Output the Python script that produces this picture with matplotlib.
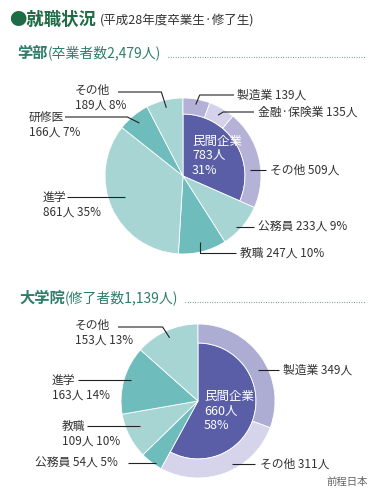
import numpy as np
import matplotlib.pyplot as plt

plt.rcParams['font.family'] = ['Noto Sans CJK JP', 'DejaVu Sans']

# 学部 (undergraduates)
ug_names = ['民間企業', '公務員', '教職', '進学', '研修医', 'その他']
ug_counts = [783, 233, 247, 861, 166, 189]
ug_pcts = [31, 9, 10, 35, 7, 8]
ug_sub_names = ['製造業', '金融·保険業', 'その他']
ug_sub_counts = [139, 135, 509]

# 大学院 (graduate school)
gr_names = ['民間企業', '公務員', '教職', '進学', 'その他']
gr_counts = [660, 54, 109, 163, 153]
gr_pcts = [58, 5, 10, 14, 13]
gr_sub_names = ['製造業', 'その他']
gr_sub_counts = [349, 311]

DARK = '#5a5ea6'
TEAL = '#6ebcbc'
LTEAL = '#a7d5d4'
TXT = '#333333'
GREEN = '#1f6b45'
SUBGREEN = '#2e7d6b'
FS = 8.5

W, H = 379, 497
fig = plt.figure(figsize=(W / 100, H / 100), dpi=100)
ax = fig.add_axes([0, 0, 1, 1])


def Y(y):
    # image pixel row -> axis coordinate
    return H - y


def draw_pie(center, R, r, counts, colors, sub_counts, sub_colors):
    cx, cy = center
    total = sum(counts)
    wedges, _ = ax.pie(counts, colors=colors, radius=R, center=(cx, Y(cy)),
                       startangle=90, counterclock=False,
                       wedgeprops=dict(edgecolor='white', linewidth=0.6))
    wedges[0].set_radius(r)
    ring_vals = sub_counts + [total - sum(sub_counts)]
    ring, _ = ax.pie(ring_vals, colors=sub_colors + ['none'], radius=R,
                     center=(cx, Y(cy)), startangle=90, counterclock=False,
                     wedgeprops=dict(width=R - r, edgecolor='white', linewidth=0.6))
    ring[-1].set_edgecolor('none')
    # mid angles (clockwise from top)
    cum = np.cumsum([0] + counts) / total * 360
    mids = (cum[:-1] + cum[1:]) / 2
    scum = np.cumsum([0] + sub_counts) / total * 360
    smids = (scum[:-1] + scum[1:]) / 2
    return mids, smids


def anchor(center, R, ang, rf):
    cx, cy = center
    t = np.radians(ang)
    return cx + rf * R * np.sin(t), cy - rf * R * np.cos(t)


def leader(center, R, ang, rf, ly, lx, mode, dx=0):
    axp, ayp = anchor(center, R, ang, rf)
    if mode == 'h':
        xs, ys = [lx, axp], [ly, ly]
    else:
        xs, ys = [lx, axp + dx, axp], [ly, ly, ayp]
    ax.plot(xs, [Y(v) for v in ys], color='#222222', lw=0.8,
            solid_capstyle='butt')


def right_label(text, x, y):
    ax.text(x, Y(y), text, fontsize=FS, color=TXT, ha='left', va='center')


def left_label(name, count, pct, x, y):
    ax.text(x, Y(y), name, fontsize=FS, color=TXT, ha='left', va='center')
    ax.text(x, Y(y + 15), f'{count}人 {pct}%', fontsize=FS, color=TXT,
            ha='left', va='center')


# ---------------- titles ----------------
ax.text(9, Y(20), '●就職状況', fontsize=12.5, fontweight='bold', color=GREEN,
        ha='left', va='center')
ax.text(100, Y(21), '(平成28年度卒業生·修了生)', fontsize=9, color=TXT,
        ha='left', va='center')

ax.text(17, Y(53), '学部', fontsize=11, fontweight='bold', color=SUBGREEN,
        ha='left', va='center')
ax.text(48, Y(53), f'(卒業者数{sum(ug_counts):,}人)', fontsize=10, color=SUBGREEN,
        ha='left', va='center')
ax.plot([168, 366], [Y(57), Y(57)], color=SUBGREEN, lw=0.8, ls=(0, (0.6, 1.6)))

ax.text(19, Y(298), '大学院', fontsize=11, fontweight='bold', color=SUBGREEN,
        ha='left', va='center')
ax.text(65, Y(298), f'(修了者数{sum(gr_counts):,}人)', fontsize=10, color=SUBGREEN,
        ha='left', va='center')
ax.plot([185, 366], [Y(302), Y(302)], color=SUBGREEN, lw=0.8, ls=(0, (0.6, 1.6)))

# ---------------- 学部 pie ----------------
c1, R1, r1 = (183, 176), 78, 62
m1, s1 = draw_pie(c1, R1, r1, ug_counts,
                  [DARK, LTEAL, TEAL, LTEAL, TEAL, LTEAL],
                  ug_sub_counts, ['#b3b1d6', '#d3d2ea', '#b4b2d6'])

ax.text(192, Y(156), f'{ug_names[0]}\n{ug_counts[0]}人\n{ug_pcts[0]}%',
        fontsize=9, color='white', ha='left', va='center', linespacing=1.15)

# ring labels
leader(c1, R1, s1[0], 0.93, 95, 234, 'e', 4)
right_label(f'{ug_sub_names[0]} {ug_sub_counts[0]}人', 237, 95)
leader(c1, R1, s1[1], 0.9, 112, 254, 'e', 5)
right_label(f'{ug_sub_names[1]} {ug_sub_counts[1]}人', 258, 112)
leader(c1, R1, s1[2], 0.88, 170, 266, 'h')
right_label(f'{ug_sub_names[2]} {ug_sub_counts[2]}人', 270, 170)
# main labels
leader(c1, R1, m1[1], 0.9, 227, 254, 'h')
right_label(f'{ug_names[1]} {ug_counts[1]}人 {ug_pcts[1]}%', 258, 227)
leader(c1, R1, m1[2], 0.87, 253, 236, 'e', 0)
right_label(f'{ug_names[2]} {ug_counts[2]}人 {ug_pcts[2]}%', 240, 253)
leader(c1, R1, m1[3], 0.82, 197, 67, 'h')
left_label(ug_names[3], ug_counts[3], ug_pcts[3], 43, 197)
leader(c1, R1, m1[4], 0.88, 117, 65, 'e', -12)
left_label(ug_names[4], ug_counts[4], ug_pcts[4], 29, 117)
leader(c1, R1, m1[5], 0.9, 92, 118, 'e', -5)
left_label(ug_names[5], ug_counts[5], ug_pcts[5], 75, 90)

# ---------------- 大学院 pie ----------------
c2, R2, r2 = (198, 401), 77, 58
m2, s2 = draw_pie(c2, R2, r2, gr_counts,
                  [DARK, TEAL, LTEAL, TEAL, LTEAL],
                  gr_sub_counts, ['#adacd2', '#d5d4ea'])

ax.text(204, Y(411), f'{gr_names[0]}\n{gr_counts[0]}人\n{gr_pcts[0]}%',
        fontsize=9, color='white', ha='left', va='center', linespacing=1.15)

leader(c2, R2, s2[0], 0.95, 370, 279, 'h')
right_label(f'{gr_sub_names[0]} {gr_sub_counts[0]}人', 283, 370)
leader(c2, R2, s2[1] - 9, 0.9, 464, 255, 'h')
right_label(f'{gr_sub_names[1]} {gr_sub_counts[1]}人', 260, 464)

leader(c2, R2, m2[1], 0.9, 463, 128, 'h')
ax.text(35, Y(463), f'{gr_names[1]} {gr_counts[1]}人 {gr_pcts[1]}%', fontsize=FS,
        color=TXT, ha='left', va='center')
leader(c2, R2, m2[2], 0.84, 426, 87, 'h')
left_label(gr_names[2], gr_counts[2], gr_pcts[2], 62, 426)
leader(c2, R2, m2[3], 0.9, 380, 78, 'h')
left_label(gr_names[3], gr_counts[3], gr_pcts[3], 52, 380)
leader(c2, R2, m2[4], 0.9, 327, 118, 'e', -7)
left_label(gr_names[4], gr_counts[4], gr_pcts[4], 75, 325)

# watermark
ax.text(368, Y(482), '前程日本', fontsize=7.5, color='#666666', ha='right',
        va='center')

ax.set_xlim(0, W)
ax.set_ylim(0, H)
ax.set_aspect('auto')
ax.axis('off')

fig.savefig('out.png', dpi=100, facecolor='white')
